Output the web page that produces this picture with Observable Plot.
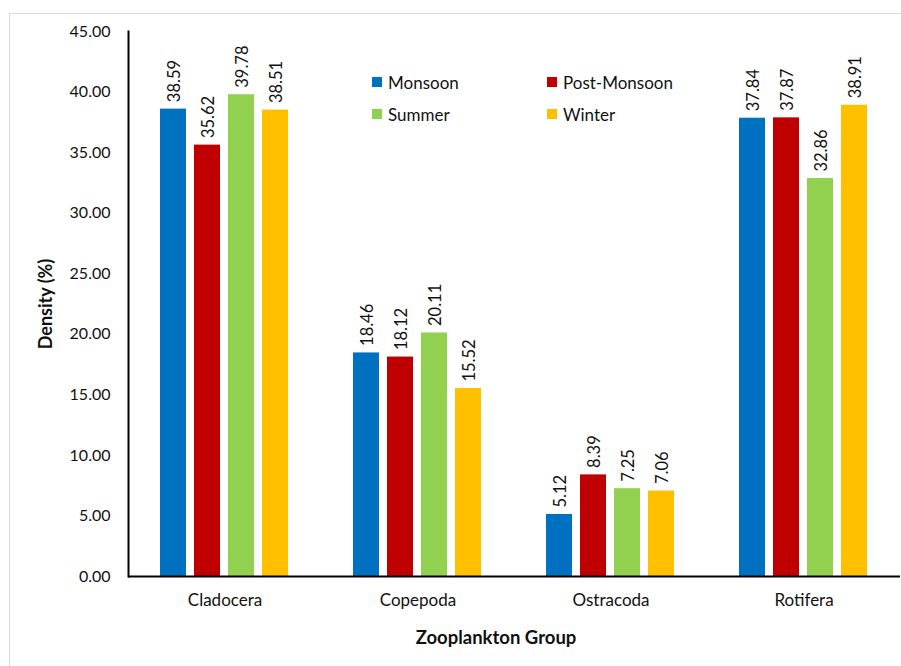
<!DOCTYPE html>
<html>
<head>
<meta charset="utf-8">
<script src="https://cdn.jsdelivr.net/npm/d3@7"></script>
<script src="https://cdn.jsdelivr.net/npm/@observablehq/plot@0.6"></script>
<style>
  html, body { margin: 0; padding: 0; background: #fff; }
  #wrap { position: relative; width: 901px; height: 666px; overflow: hidden; font-family: Lato, "Open Sans", sans-serif; }
  #border { position: absolute; left: 9px; top: 13px; width: 1000px; height: 1000px; border: 1px solid #d9d9d9; }
  #legend { position: absolute; left: 372px; top: 72px; display: grid; grid-template-columns: 175px 175px; row-gap: 12px; font-size: 17px; color: #111; }
  #legend .item { display: flex; align-items: center; height: 20px; }
  #legend .sw { width: 10px; height: 10px; margin-right: 6px; }
  #chart { position: absolute; left: 0; top: 0; }
  #xtitle { position: absolute; left: 296px; width: 400px; top: 626px; text-align: center; font-weight: bold; font-size: 18.5px; color: #111; }
</style>
</head>
<body>
<div id="wrap">
  <div id="border"></div>
  <div id="chart"></div>
  <div id="legend"></div>
  <div id="xtitle">Zooplankton Group</div>
</div>
<script>
const groups = ["Cladocera", "Copepoda", "Ostracoda", "Rotifera"];
const seasons = ["Monsoon", "Post-Monsoon", "Summer", "Winter"];
const colors = ["#0070C0", "#C00000", "#92D050", "#FFC000"];
const monsoon = [38.59, 18.46, 5.12, 37.84];
const postMonsoon = [35.62, 18.12, 8.39, 37.87];
const summer = [39.78, 20.11, 7.25, 32.86];
const winter = [38.51, 15.52, 7.06, 38.91];
const yTicks = [0, 5, 10, 15, 20, 25, 30, 35, 40, 45];

const seriesValues = [monsoon, postMonsoon, summer, winter];
const data = [];
groups.forEach((g, gi) => {
  seasons.forEach((s, si) => {
    data.push({group: g, season: s, value: seriesValues[si][gi]});
  });
});

const font = "Lato, 'Open Sans', sans-serif";

const chart = Plot.plot({
  width: 901,
  height: 666,
  marginLeft: 126,
  marginRight: 0,
  marginTop: 31,
  marginBottom: 90,
  style: {fontFamily: font, fontSize: "16px", color: "#111", background: "transparent"},
  fx: {domain: groups, paddingInner: 0, paddingOuter: 0, label: null},
  x: {domain: seasons, paddingInner: 0.23, paddingOuter: 0.886, axis: null},
  y: {domain: [0, 45], label: null},
  color: {domain: seasons, range: colors},
  marks: [
    Plot.barY(data, {fx: "group", x: "season", y: "value", fill: "season"}),
    Plot.text(data, {fx: "group", x: "season", y: "value", text: d => d.value.toFixed(2), rotate: -90, textAnchor: "start", lineAnchor: "middle", dy: -7, dx: 1, fontSize: 16.5, fill: "#111"}),
    Plot.ruleY([0], {stroke: "#000", strokeWidth: 2}),
    Plot.frame({anchor: "left", facetAnchor: "left", stroke: "#000", strokeWidth: 2}),
    Plot.axisY({ticks: yTicks, tickFormat: d => d.toFixed(2), tickSize: 0, tickPadding: 18, fontSize: 16, label: "Density (%)", labelAnchor: "center", labelOffset: 89, labelArrow: "none"}),
    Plot.axisFx({anchor: "bottom", tickSize: 0, tickPadding: 17, fontSize: 17, label: null})
  ]
});
document.getElementById("chart").appendChild(chart);

chart.querySelectorAll("[aria-label='y-axis label'] text").forEach(t => {
  t.setAttribute("font-weight", "bold");
  t.setAttribute("font-size", "18");
});

const legend = document.getElementById("legend");
seasons.forEach((s, i) => {
  const item = document.createElement("div");
  item.className = "item";
  item.innerHTML = `<span class="sw" style="background:${colors[i]}"></span><span>${s}</span>`;
  legend.appendChild(item);
});
</script>
</body>
</html>
